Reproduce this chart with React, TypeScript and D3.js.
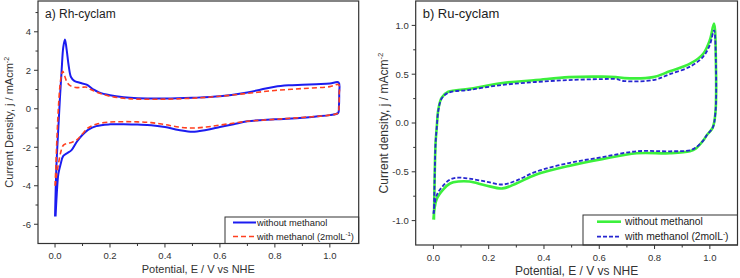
import React from "react";
import * as d3 from "d3";

type Pt = [number, number];

// ---------- Panel a) Rh-cyclam ----------
const rhWithout: Pt[] = [
  [0.0, -5.6], [0.005, -3.0], [0.012, -1.0], [0.018, 0.6], [0.024, 2.0], [0.03, 3.2], [0.036, 3.6],
  [0.042, 3.1], [0.05, 2.2], [0.058, 1.65], [0.07, 1.45], [0.09, 1.35], [0.115, 1.25], [0.14, 1.0],
  [0.16, 0.85], [0.2, 0.7], [0.25, 0.6], [0.3, 0.55], [0.4, 0.53], [0.5, 0.57], [0.6, 0.65],
  [0.7, 0.85], [0.75, 1.0], [0.8, 1.15], [0.85, 1.22], [0.9, 1.25], [0.95, 1.28], [1.0, 1.31],
  [1.032, 1.37], [1.034, 0.8], [1.033, 0.1], [1.03, -0.22], [1.0, -0.33], [0.95, -0.4], [0.9, -0.47],
  [0.8, -0.55], [0.7, -0.65], [0.65, -0.8], [0.6, -0.95], [0.55, -1.1], [0.5, -1.2], [0.45, -1.1],
  [0.4, -0.95], [0.35, -0.85], [0.3, -0.82], [0.25, -0.8], [0.2, -0.81], [0.15, -0.9], [0.12, -1.1],
  [0.1, -1.35], [0.08, -1.7], [0.06, -2.15], [0.045, -2.3], [0.03, -2.45], [0.02, -2.9],
  [0.012, -3.4], [0.006, -4.5], [0.002, -5.6],
];

const rhWith: Pt[] = [
  [0.0, -4.0], [0.003, -3.0], [0.007, -1.5], [0.012, 0.0], [0.018, 1.2], [0.024, 1.8], [0.028, 1.95],
  [0.035, 1.7], [0.045, 1.35], [0.055, 1.2], [0.08, 1.1], [0.1, 1.12], [0.115, 1.12], [0.13, 1.0],
  [0.16, 0.82], [0.2, 0.65], [0.25, 0.55], [0.3, 0.5], [0.4, 0.5], [0.5, 0.55], [0.6, 0.65],
  [0.7, 0.8], [0.8, 0.95], [0.9, 1.05], [1.0, 1.15], [1.032, 1.25], [1.034, 0.7], [1.033, 0.0],
  [1.03, -0.22], [1.0, -0.33], [0.9, -0.45], [0.8, -0.55], [0.7, -0.65], [0.6, -0.85], [0.55, -0.95],
  [0.5, -1.0], [0.45, -0.95], [0.4, -0.82], [0.35, -0.72], [0.3, -0.68], [0.25, -0.67], [0.2, -0.69],
  [0.15, -0.8], [0.12, -1.0], [0.1, -1.3], [0.08, -1.6], [0.06, -1.75], [0.045, -1.8], [0.03, -1.9],
  [0.02, -2.3], [0.012, -2.9], [0.005, -3.5], [0.001, -4.0],
];

// ---------- Panel b) Ru-cyclam ----------
const ruWithout: Pt[] = [
  [0.002, -0.99], [0.005, -0.5], [0.008, -0.2], [0.012, -0.05], [0.018, 0.14], [0.03, 0.26],
  [0.054, 0.32], [0.13, 0.35], [0.25, 0.41], [0.37, 0.44], [0.49, 0.47], [0.61, 0.475], [0.66, 0.47],
  [0.69, 0.46], [0.795, 0.47], [0.855, 0.53], [0.93, 0.61], [0.976, 0.71], [1.0, 0.85], [1.015, 1.02],
  [1.022, 0.6], [1.02, 0.1], [1.01, -0.05], [0.99, -0.12], [0.976, -0.18], [0.95, -0.26], [0.928, -0.29],
  [0.855, -0.31], [0.735, -0.31], [0.61, -0.37], [0.49, -0.44], [0.37, -0.53], [0.3, -0.62],
  [0.25, -0.67], [0.19, -0.64], [0.13, -0.6], [0.09, -0.6], [0.06, -0.62], [0.036, -0.68],
  [0.012, -0.78], [0.0, -0.99],
];

const ruWith: Pt[] = [
  [0.002, -0.93], [0.005, -0.5], [0.008, -0.2], [0.012, -0.05], [0.018, 0.13], [0.03, 0.25],
  [0.054, 0.31], [0.13, 0.34], [0.25, 0.39], [0.37, 0.42], [0.49, 0.44], [0.61, 0.45], [0.66, 0.45],
  [0.69, 0.43], [0.795, 0.44], [0.855, 0.5], [0.93, 0.58], [0.976, 0.68], [1.0, 0.8], [1.015, 0.95],
  [1.022, 0.6], [1.02, 0.1], [1.01, -0.05], [0.99, -0.12], [0.976, -0.18], [0.95, -0.25], [0.928, -0.28],
  [0.855, -0.29], [0.735, -0.29], [0.61, -0.35], [0.49, -0.41], [0.37, -0.5], [0.3, -0.59],
  [0.25, -0.63], [0.19, -0.6], [0.13, -0.57], [0.09, -0.56], [0.06, -0.58], [0.036, -0.64],
  [0.012, -0.74], [0.0, -0.93],
];

const xMajor = [0, 0.2, 0.4, 0.6, 0.8, 1.0];
const xMinor = [0.1, 0.3, 0.5, 0.7, 0.9];
const rhYMajor = [-6, -4, -2, 0, 2, 4];
const rhYMinor = [-5, -3, -1, 1, 3, 5];
const ruYMajor = [-1, -0.5, 0, 0.5, 1.0];
const ruYMinor = [-0.75, -0.25, 0.25, 0.75];

const FONT = "'Liberation Sans', Arial, Helvetica, sans-serif";

type Series = { data: Pt[]; color: string; width: number; dash?: string; label: string; sup: string };

type PanelProps = {
  x0: number; x1: number; y0: number; y1: number;
  xDomain: [number, number]; yDomain: [number, number];
  yMajor: number[]; yMinor: number[]; yFmt: (v: number) => string;
  title: string; yTitle: string; titleSize: number; axisTitleSize: number; legendSize: number;
  series: Series[];
  legend: { x: number; y: number; lineX0: number; lineX1: number; textX: number; row1: number; row2: number };
  yTitleX: number; xTitleY: number;
};

function Panel(p: PanelProps) {
  const xs = d3.scaleLinear().domain(p.xDomain).range([p.x0, p.x1]);
  const ys = d3.scaleLinear().domain(p.yDomain).range([p.y1, p.y0]);
  const line = d3.line<Pt>().x((d) => xs(d[0])).y((d) => ys(d[1])).curve(d3.curveCatmullRom.alpha(0.5));
  const clipId = "clip" + Math.round(p.x0);
  const axisCol = "#333";
  const lblCol = "#333";
  return (
    <g>
      <defs>
        <clipPath id={clipId}>
          <rect x={p.x0} y={p.y0} width={p.x1 - p.x0} height={p.y1 - p.y0} />
        </clipPath>
      </defs>
      <g clipPath={`url(#${clipId})`}>
        {p.series.map((s, i) => (
          <path key={i} d={line(s.data) || ""} fill="none" stroke={s.color} strokeWidth={s.width}
            strokeDasharray={s.dash} strokeLinejoin="round" strokeLinecap="butt" />
        ))}
      </g>
      {/* legend */}
      <rect x={p.legend.x} y={p.legend.y} width={p.x1 - p.legend.x} height={p.y1 - p.legend.y}
        fill="white" stroke={axisCol} strokeWidth={1} />
      {p.series.map((s, i) => {
        const yy = i === 0 ? p.legend.row1 : p.legend.row2;
        return (
          <g key={i}>
            <line x1={p.legend.lineX0} x2={p.legend.lineX1} y1={yy} y2={yy} stroke={s.color}
              strokeWidth={s.width} strokeDasharray={s.dash} />
            <text x={p.legend.textX} y={yy + p.legendSize * 0.36} fontSize={p.legendSize} fill="#222" fontFamily={FONT}>
              {s.label}
              {s.sup ? (
                <>
                  <tspan fontSize={p.legendSize * 0.65} dy={-p.legendSize * 0.4}>{s.sup}</tspan>
                  <tspan dy={p.legendSize * 0.4}>)</tspan>
                </>
              ) : null}
            </text>
          </g>
        );
      })}
      {/* frame */}
      <rect x={p.x0} y={p.y0} width={p.x1 - p.x0} height={p.y1 - p.y0} fill="none" stroke={axisCol} strokeWidth={1.2} />
      {/* x ticks */}
      {xMajor.map((v) => (
        <g key={"xm" + v}>
          <line x1={xs(v)} x2={xs(v)} y1={p.y1} y2={p.y1 + 4} stroke={axisCol} strokeWidth={1} />
          <text x={xs(v)} y={p.y1 + 15.5} textAnchor="middle" fontSize={9.5} fill={lblCol} fontFamily={FONT}>
            {v.toFixed(1)}
          </text>
        </g>
      ))}
      {xMinor.map((v) => (
        <line key={"xn" + v} x1={xs(v)} x2={xs(v)} y1={p.y1} y2={p.y1 + 2.5} stroke={axisCol} strokeWidth={1} />
      ))}
      {p.yMajor.map((v) => (
        <g key={"ym" + v}>
          <line x1={p.x0 - 4} x2={p.x0} y1={ys(v)} y2={ys(v)} stroke={axisCol} strokeWidth={1} />
          <text x={p.x0 - 7} y={ys(v) + 3.4} textAnchor="end" fontSize={9.5} fill={lblCol} fontFamily={FONT}>
            {p.yFmt(v)}
          </text>
        </g>
      ))}
      {p.yMinor.map((v) => (
        <line key={"yn" + v} x1={p.x0 - 2.5} x2={p.x0} y1={ys(v)} y2={ys(v)} stroke={axisCol} strokeWidth={1} />
      ))}
      {/* titles */}
      <text x={p.x0 + 7} y={p.y0 + 17} fontSize={p.titleSize} fill="#222" fontFamily={FONT}>{p.title}</text>
      <text x={(p.x0 + p.x1) / 2} y={p.xTitleY} textAnchor="middle" fontSize={p.axisTitleSize} fill="#333" fontFamily={FONT}>
        Potential, E / V vs NHE
      </text>
      <text transform={`translate(${p.yTitleX},${(p.y0 + p.y1) / 2}) rotate(-90)`} textAnchor="middle"
        fontSize={p.axisTitleSize} fill="#333" fontFamily={FONT}>
        {p.yTitle}
        <tspan fontSize={p.axisTitleSize * 0.65} dy={-p.axisTitleSize * 0.4}>-2</tspan>
      </text>
    </g>
  );
}

export default function App() {
  return (
    <svg width={740} height={278} style={{ position: "absolute", left: 0, top: 0, background: "white" }}>
      <rect width={740} height={278} fill="white" />
      <Panel
        x0={38} x1={358.7} y0={1} y1={243.5}
        xDomain={[-0.062, 1.105]} yDomain={[-7, 5.6]}
        yMajor={rhYMajor} yMinor={rhYMinor} yFmt={(v) => String(v)}
        title="a) Rh-cyclam" yTitle="Current Density, j / mAcm" titleSize={12} axisTitleSize={11} legendSize={9.3}
        series={[
          { data: rhWithout, color: "#1c1cf0", width: 2, label: "without methanol", sup: "" },
          { data: rhWith, color: "#ff4020", width: 1.6, dash: "5,3", label: "with methanol (2molL", sup: "-1" },
        ]}
        legend={{ x: 225, y: 217, lineX0: 233, lineX1: 256, textX: 257, row1: 222.5, row2: 236.5 }}
        yTitleX={13} xTitleY={272.5}
      />
      <Panel
        x0={415.7} x1={737.5} y0={1} y1={245}
        xDomain={[-0.064, 1.1]} yDomain={[-1.25, 1.25]}
        yMajor={ruYMajor} yMinor={ruYMinor} yFmt={(v) => v.toFixed(1)}
        title="b) Ru-cyclam" yTitle="Current density, j / mAcm" titleSize={13} axisTitleSize={12} legendSize={10.3}
        series={[
          { data: ruWithout, color: "#3cf03c", width: 2.6, label: "without methanol", sup: "" },
          { data: ruWith, color: "#2626d0", width: 1.8, dash: "4,2", label: "with methanol (2molL", sup: "-" },
        ]}
        legend={{ x: 583, y: 215, lineX0: 597, lineX1: 621, textX: 625, row1: 221.7, row2: 236.7 }}
        yTitleX={388} xTitleY={275}
      />
    </svg>
  );
}
